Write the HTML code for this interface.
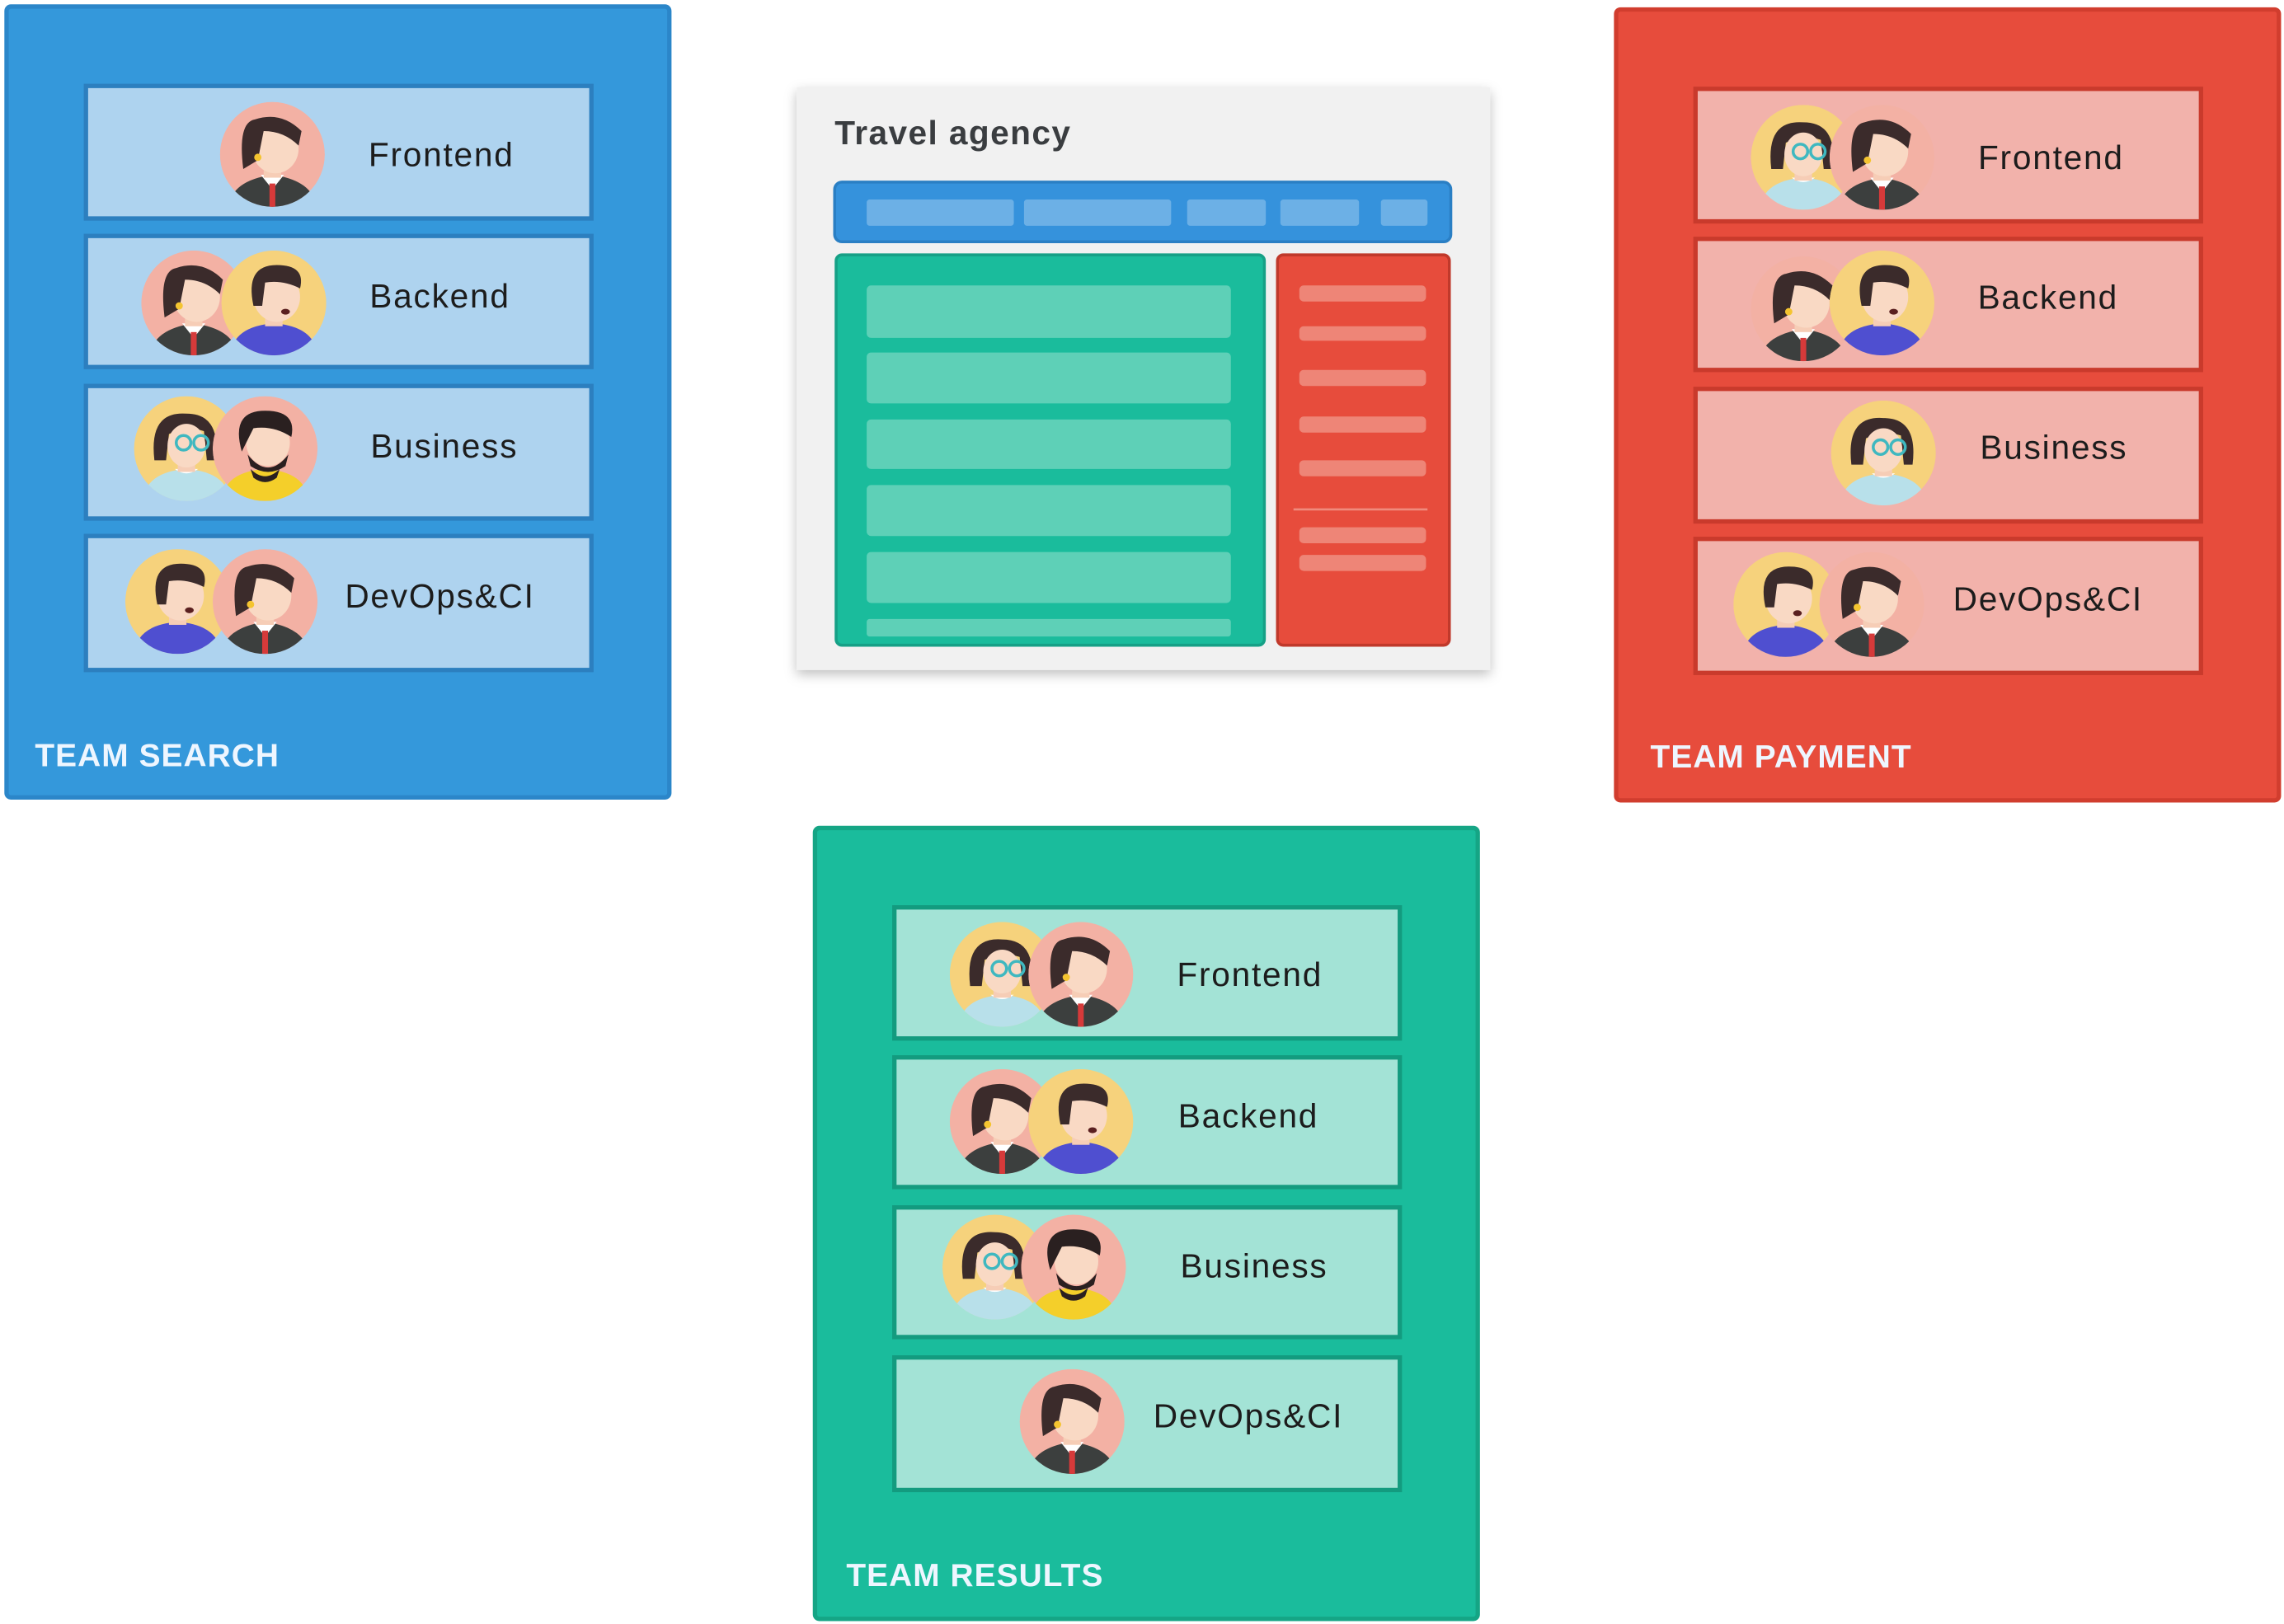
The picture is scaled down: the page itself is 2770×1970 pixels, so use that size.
<!DOCTYPE html>
<html><head><meta charset="utf-8"><style>
html,body{margin:0;padding:0;background:#fff;}
svg{display:block;}
.lbl{font-family:"Liberation Sans",sans-serif;font-size:23px;fill:#1c1c1c;text-anchor:middle;letter-spacing:1px;}
.team{font-family:"Liberation Sans",sans-serif;font-size:22px;font-weight:bold;fill:#eef6ff;letter-spacing:0.6px;}
</style></head><body>
<svg width="2770" height="1970" viewBox="0 0 1568 1115" preserveAspectRatio="none" xmlns="http://www.w3.org/2000/svg">
<defs>
<clipPath id="cc"><circle cx="0" cy="0" r="36"/></clipPath>
<filter id="sh" x="-10%" y="-10%" width="120%" height="120%"><feDropShadow dx="0" dy="3" stdDeviation="4" flood-opacity="0.25"/></filter>
<symbol id="girl" viewBox="-36 -36 72 72" overflow="visible">
<g clip-path="url(#cc)">
<circle r="36" fill="#f3b1a4"/>
<path d="M-30 36 Q-28 18 0 14 Q28 18 30 36 Z" fill="#3c3f3e"/>
<path d="M-8 14 L0 24 L8 14 Z" fill="#fff"/><rect x="-2" y="20" width="4" height="16" fill="#d63a3a"/>
<rect x="-6" y="4" width="12" height="12" fill="#f6cdb6"/>
<ellipse cx="2" cy="-4" rx="16" ry="17" fill="#f9d9c4"/>
<path d="M-20 10 Q-24 -22 -12 -24 Q6 -30 20 -16 L18 -6 Q8 -16 -6 -16 L-10 4 Z" fill="#3b2b2b"/>
<circle cx="-10" cy="2" r="2.5" fill="#f4c430"/>
</g></symbol>
<symbol id="boy" viewBox="-36 -36 72 72" overflow="visible">
<g clip-path="url(#cc)">
<circle r="36" fill="#f6d27c"/>
<path d="M-30 36 Q-28 16 0 14 Q28 16 30 36 Z" fill="#4f4fd0"/>
<rect x="-6" y="4" width="12" height="12" fill="#f6cdb6"/>
<ellipse cx="2" cy="-4" rx="16" ry="17" fill="#f9d9c4"/>
<path d="M-14 2 Q-20 -26 2 -26 Q22 -26 18 -10 Q6 -16 -6 -14 L-8 2 Z" fill="#3b2b2b"/>
<ellipse cx="8" cy="6" rx="3" ry="2" fill="#5a2020"/>
</g></symbol>
<symbol id="glass" viewBox="-36 -36 72 72" overflow="visible">
<g clip-path="url(#cc)">
<circle r="36" fill="#f6d27c"/>
<path d="M-30 36 Q-28 16 0 14 Q28 16 30 36 Z" fill="#b8e0ea"/>
<path d="M-8 14 Q0 20 8 14" fill="#fff"/>
<rect x="-6" y="4" width="12" height="12" fill="#f6cdb6"/>
<path d="M-22 8 Q-26 -26 0 -24 Q24 -24 20 8 L14 8 L12 -12 Q0 -16 -12 -10 L-14 8 Z" fill="#3b2b2b"/>
<ellipse cx="0" cy="-2" rx="13" ry="15" fill="#f9d9c4"/>
<circle cx="-2" cy="-4" r="5" fill="none" stroke="#3fb8c0" stroke-width="2"/><circle cx="10" cy="-4" r="5" fill="none" stroke="#3fb8c0" stroke-width="2"/>
</g></symbol>
<symbol id="beard" viewBox="-36 -36 72 72" overflow="visible">
<g clip-path="url(#cc)">
<circle r="36" fill="#f3b1a4"/>
<path d="M-30 36 Q-28 16 0 14 Q28 16 30 36 Z" fill="#f4cf2a"/>
<path d="M-10 14 Q0 24 10 14 L8 20 Q0 26 -8 20Z" fill="#2a2020"/>
<ellipse cx="2" cy="-4" rx="15" ry="16" fill="#f9d9c4"/>
<path d="M-12 4 Q2 22 16 4 L14 12 Q2 20 -10 12 Z" fill="#2a2020"/>
<path d="M-16 2 Q-24 -26 0 -26 Q22 -26 18 -8 Q6 -16 -8 -14 Z" fill="#2a2020"/>
</g></symbol>
</defs>

<!-- TEAM SEARCH -->
<rect x="4.5" y="4.5" width="455" height="543" rx="3" fill="#3498db" stroke="#2b86c9" stroke-width="3"/>
<g fill="#aed3ef" stroke="#2c7fbf" stroke-width="3">
<rect x="59" y="59" width="347" height="91"/>
<rect x="59" y="162" width="347" height="90"/>
<rect x="59" y="265" width="347" height="91"/>
<rect x="59" y="368" width="347" height="92"/>
</g>
<use href="#girl" x="151" y="70" width="72" height="72"/>
<use href="#girl" x="97" y="172" width="72" height="72"/>
<use href="#boy" x="152" y="172" width="72" height="72"/>
<use href="#glass" x="92" y="272" width="72" height="72"/>
<use href="#beard" x="146" y="272" width="72" height="72"/>
<use href="#boy" x="86" y="377" width="72" height="72"/>
<use href="#girl" x="146" y="377" width="72" height="72"/>
<text class="lbl" x="303" y="114">Frontend</text>
<text class="lbl" x="302" y="211">Backend</text>
<text class="lbl" x="305" y="314">Business</text>
<text class="lbl" x="302" y="417">DevOps&amp;CI</text>
<text class="team" x="24" y="526">TEAM SEARCH</text>

<!-- TRAVEL AGENCY -->
<rect x="547" y="60" width="476" height="400" fill="#f1f1f1" filter="url(#sh)"/>
<text x="573" y="99" font-family="Liberation Sans, sans-serif" font-size="23" font-weight="bold" fill="#3a3d40" letter-spacing="0.8">Travel agency</text>
<rect x="573" y="125" width="423" height="41" rx="5" fill="#3592dc" stroke="#2a7fc4" stroke-width="2"/>
<g fill="#6cb0e6"><rect x="595" y="137" width="101" height="18" rx="2"/><rect x="703" y="137" width="101" height="18" rx="2"/><rect x="815" y="137" width="54" height="18" rx="2"/><rect x="879" y="137" width="54" height="18" rx="2"/><rect x="948" y="137" width="32" height="18" rx="2"/></g>
<rect x="574" y="175" width="294" height="268" rx="4" fill="#1abc9c" stroke="#16a086" stroke-width="2"/>
<g fill="#5ed0b7"><rect x="595" y="196" width="250" height="36" rx="3"/><rect x="595" y="242" width="250" height="35" rx="3"/><rect x="595" y="288" width="250" height="34" rx="3"/><rect x="595" y="333" width="250" height="35" rx="3"/><rect x="595" y="379" width="250" height="35" rx="3"/><rect x="595" y="425" width="250" height="12" rx="2"/></g>
<rect x="877" y="175" width="118" height="268" rx="4" fill="#e74c3c" stroke="#c0392b" stroke-width="2"/>
<g fill="#ee8577"><rect x="892" y="196" width="87" height="11" rx="3"/><rect x="892" y="224" width="87" height="10" rx="3"/><rect x="892" y="254" width="87" height="11" rx="3"/><rect x="892" y="286" width="87" height="11" rx="3"/><rect x="892" y="316" width="87" height="11" rx="3"/><rect x="892" y="362" width="87" height="11" rx="3"/><rect x="892" y="381" width="87" height="11" rx="3"/></g>
<rect x="888" y="349" width="92" height="1.5" fill="#f08a7d"/>

<!-- TEAM PAYMENT -->
<rect x="1109.5" y="6.5" width="455" height="543" rx="3" fill="#e74c3c" stroke="#d13d2e" stroke-width="3"/>
<g fill="#f2b2ab" stroke="#c93a2c" stroke-width="3">
<rect x="1164" y="61" width="347" height="91"/>
<rect x="1164" y="164" width="347" height="90"/>
<rect x="1164" y="267" width="347" height="91"/>
<rect x="1164" y="370" width="347" height="92"/>
</g>
<use href="#glass" x="1202" y="72" width="72" height="72"/>
<use href="#girl" x="1256" y="72" width="72" height="72"/>
<use href="#girl" x="1202" y="176" width="72" height="72"/>
<use href="#boy" x="1256" y="172" width="72" height="72"/>
<use href="#glass" x="1257" y="275" width="72" height="72"/>
<use href="#boy" x="1190" y="379" width="72" height="72"/>
<use href="#girl" x="1249" y="379" width="72" height="72"/>
<text class="lbl" x="1408" y="116">Frontend</text>
<text class="lbl" x="1406" y="212">Backend</text>
<text class="lbl" x="1410" y="315">Business</text>
<text class="lbl" x="1406" y="419">DevOps&amp;CI</text>
<text class="team" x="1133" y="527">TEAM PAYMENT</text>

<!-- TEAM RESULTS -->
<rect x="559.5" y="568.5" width="455" height="543" rx="3" fill="#1abc9c" stroke="#15a585" stroke-width="3"/>
<g fill="#a3e3d6" stroke="#139b7f" stroke-width="3">
<rect x="614" y="623" width="347" height="90"/>
<rect x="614" y="726" width="347" height="89"/>
<rect x="614" y="829" width="347" height="89"/>
<rect x="614" y="932" width="347" height="91"/>
</g>
<use href="#glass" x="652" y="633" width="72" height="72"/>
<use href="#girl" x="706" y="633" width="72" height="72"/>
<use href="#girl" x="652" y="734" width="72" height="72"/>
<use href="#boy" x="706" y="734" width="72" height="72"/>
<use href="#glass" x="647" y="834" width="72" height="72"/>
<use href="#beard" x="701" y="834" width="72" height="72"/>
<use href="#girl" x="700" y="940" width="72" height="72"/>
<text class="lbl" x="858" y="677">Frontend</text>
<text class="lbl" x="857" y="774">Backend</text>
<text class="lbl" x="861" y="877">Business</text>
<text class="lbl" x="857" y="980">DevOps&amp;CI</text>
<text class="team" x="581" y="1089">TEAM RESULTS</text>
</svg>
</body></html>
